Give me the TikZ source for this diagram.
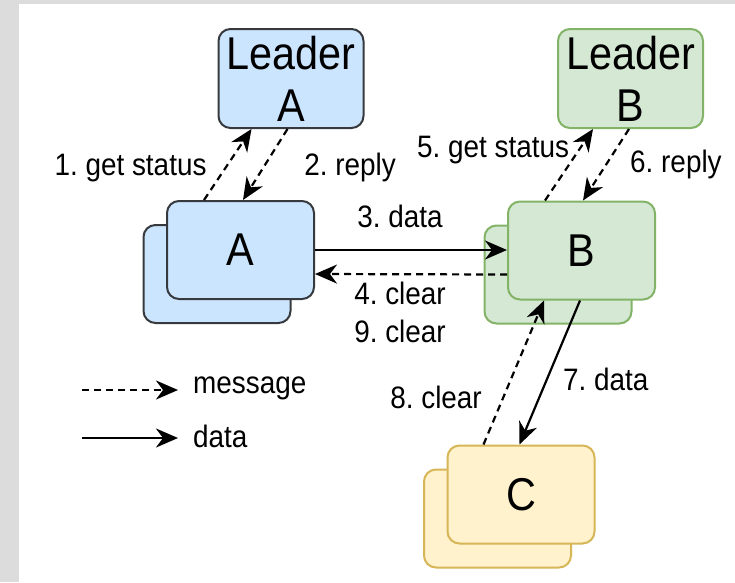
\documentclass[tikz,border=0pt]{standalone}
\usepackage{fontspec}
\setmainfont{Liberation Sans}[FakeStretch=0.9]
\usetikzlibrary{arrows.meta,calc}

\definecolor{bluefill}{HTML}{CCE5FF}
\definecolor{bluedraw}{HTML}{36393D}
\definecolor{greenfill}{HTML}{D5E8D4}
\definecolor{greendraw}{HTML}{82B366}
\definecolor{yellowfill}{HTML}{FFF2CC}
\definecolor{yellowdraw}{HTML}{D6B656}
\definecolor{backdrop}{HTML}{DCDCDC}

\tikzset{
  box/.style={rounded corners=12pt, line width=2pt, inner sep=0pt,
    minimum width=147pt, minimum height=98pt, align=center,
    font=\fontsize{46}{52}\selectfont},
  leaderbox/.style={box, minimum width=145pt, minimum height=99pt},
  bluebox/.style={fill=bluefill, draw=bluedraw},
  greenbox/.style={fill=greenfill, draw=greendraw},
  yellowbox/.style={fill=yellowfill, draw=yellowdraw},
  headtip/.style={arrows={-Stealth[length=22pt, width=19pt, inset=7pt]}},
  msg/.style={headtip, line width=2.2pt, dash pattern=on 7pt off 5pt},
  dat/.style={headtip, line width=2.2pt},
  lbl/.style={inner sep=0pt, font=\fontsize{31}{36}\selectfont}
}

\begin{document}
\frenchspacing
\begin{tikzpicture}[x=1pt, y=-1pt]
\useasboundingbox (0,0) rectangle (735,582);
% page and its grey margin
\fill[white] (0,0) rectangle (735,582);
\fill[backdrop] (0,0) rectangle (19,582);
\fill[backdrop] (0,0) rectangle (735,4);

% leaders
\node[leaderbox, bluebox] (la) at (291,78.5) {Leader\\A};
\node[leaderbox, greenbox] (lb) at (630.5,78.5) {Leader\\B};

% stacked groups A, B, C
\node[box, bluebox] (ab) at (217,274) {};
\node[box, bluebox] (af) at (240.5,250) {A};
\node[box, greenbox] (bb) at (558,274.5) {};
\node[box, greenbox] (bf) at (581.5,250.5) {B};
\node[box, yellowbox] (cb) at (497.5,518.5) {};
\node[box, yellowbox] (cf) at (521,494.5) {C};

% status exchange with leader A
\draw[msg] ($(af.north west)+(38,0)$) -- ($(la.south west)+(34,0)$);
\draw[msg] ($(la.south west)+(70,0)$) -- ($(af.north west)+(77,0)$);
% status exchange with leader B
\draw[msg] ($(bf.north west)+(38,0)$) -- ($(lb.south west)+(36,0)$);
\draw[msg] ($(lb.south west)+(72,0)$) -- ($(bf.north west)+(76,0)$);
% A <-> B
\draw[dat] (af.east) -- (af.east -| bf.west);
\draw[msg] ($(bf.west)+(0,24)$) -- ($(af.east)+(0,24)$);
% B <-> C
\draw[dat] ($(bf.south west)+(73,0)$) -- ($(cf.north west)+(73,0)$);
\draw[msg] ($(cf.north west)+(37,0)$) -- ($(bf.south west)+(37,0)$);

% labels
\node[lbl, anchor=base] (l1) at (130.5,175) {1. get status};
\node[lbl, anchor=base] (l2) at (350,175) {2. reply};
\node[lbl, anchor=base] (l3) at (400,227) {3. data};
\node[lbl, anchor=base] (l4) at (400,304) {4. clear};
\node[lbl, anchor=base] (l9) at (400,342) {9. clear};
\node[lbl, anchor=base west] (l5) at (417,157) {5. get status};
\node[lbl, anchor=base west] (l6) at (630,172) {6. reply};
\node[lbl, anchor=base west] (l7) at (563,390) {7. data};
\node[lbl, anchor=base east] (l8) at (482,408) {8. clear};

% legend
\coordinate (m1) at (82,390);
\coordinate (m2) at (178,390);
\coordinate (d1) at (82,438);
\coordinate (d2) at (178,438);
\draw[msg] (m1) -- (m2);
\draw[dat] (d1) -- (d2);
\node[lbl, anchor=west] (lm) at (193,388) {message};
\node[lbl, anchor=west] (ld) at (193,436) {data};
\end{tikzpicture}
\end{document}
